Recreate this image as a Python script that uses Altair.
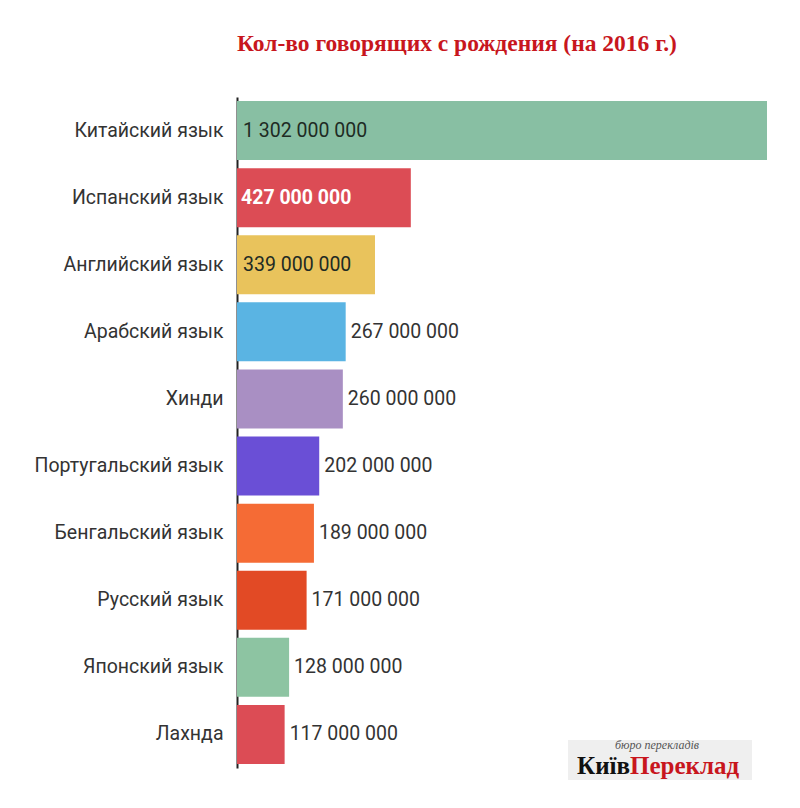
import altair as alt
import pandas as pd

languages = ["Китайский язык", "Испанский язык", "Английский язык", "Арабский язык", "Хинди",
             "Португальский язык", "Бенгальский язык", "Русский язык", "Японский язык", "Лахнда"]
speakers = [1302000000, 427000000, 339000000, 267000000, 260000000,
            202000000, 189000000, 171000000, 128000000, 117000000]
bar_colors = ["#88bfa3", "#dc4c55", "#e9c35c", "#5ab4e3", "#a98fc3",
              "#6a4fd6", "#f56b35", "#e24a25", "#8dc4a2", "#dc4c55"]

df = pd.DataFrame({
    "lang": languages,
    "value": speakers,
    "color": bar_colors,
    "label": [f"{v:,}".replace(",", " ") for v in speakers],
})

xscale = alt.Scale(domain=[0, 1302000000], nice=False)
y = alt.Y("lang:N", sort=languages, title=None,
          scale=alt.Scale(paddingInner=0.12, paddingOuter=0.06),
          axis=alt.Axis(labelFont="Roboto", labelFontSize=19.5, labelColor="#333333",
                        labelPadding=14, labelLimit=400, ticks=False,
                        domainColor="#222222", domainWidth=2))
x = alt.X("value:Q", title=None, axis=None, scale=xscale)
x0 = alt.X("zero:Q", title=None, axis=None, scale=xscale)

base = alt.Chart(df)

bars = base.mark_bar().encode(x=x, y=y, color=alt.Color("color:N", scale=None))

inside_dark = base.transform_filter(
    "datum.value >= 300000000 && datum.lang != 'Испанский язык'"
).transform_calculate(zero="0").mark_text(
    align="left", baseline="middle", dx=6, font="Roboto", fontSize=19.5, color="#1e2b24"
).encode(x=x0, y=y, text="label:N")

inside_light = base.transform_filter(
    "datum.lang == 'Испанский язык'"
).transform_calculate(zero="0").mark_text(
    align="left", baseline="middle", dx=4, font="Roboto", fontSize=19.5, fontWeight="bold", color="#ffffff"
).encode(x=x0, y=y, text="label:N")

outside = base.transform_filter("datum.value < 300000000").mark_text(
    align="left", baseline="middle", dx=5, font="Roboto", fontSize=19.5, color="#333333"
).encode(x=x, y=y, text="label:N")

one = base.transform_filter("datum.lang == 'Лахнда'")
logo_box = one.mark_rect(color="#efefef").encode(
    x=alt.value(331), x2=alt.value(515), y=alt.value(643), y2=alt.value(683))
logo_sub = one.mark_text(
    text="бюро перекладів", font="Liberation Serif", fontStyle="italic", fontSize=12,
    color="#555555", align="center", baseline="alphabetic").encode(x=alt.value(420), y=alt.value(652))
logo_a = one.mark_text(
    text="Київ", font="Liberation Serif", fontWeight="bold", fontSize=25,
    color="#111111", align="left", baseline="alphabetic").encode(x=alt.value(340), y=alt.value(677))
logo_b = one.mark_text(
    text="Переклад", font="Liberation Serif", fontWeight="bold", fontSize=25,
    color="#c8161d", align="left", baseline="alphabetic").encode(x=alt.value(393), y=alt.value(677))

chart = alt.layer(bars, inside_dark, inside_light, outside, logo_box, logo_sub, logo_a, logo_b).properties(
    width=530, height=671, background="white",
    title=alt.TitleParams("Кол-во говорящих с рождения (на 2016 г.)", anchor="start", frame="group",
                          font="Liberation Serif", fontSize=23.5, fontWeight="bold",
                          color="#c8161d", offset=42),
    autosize=alt.AutoSizeParams(type="none"),
    padding={"left": 237, "top": 97, "right": 33, "bottom": 40},
).configure_view(strokeWidth=0)

chart.save("out.html", embed_options={"renderer": "svg", "actions": False})
